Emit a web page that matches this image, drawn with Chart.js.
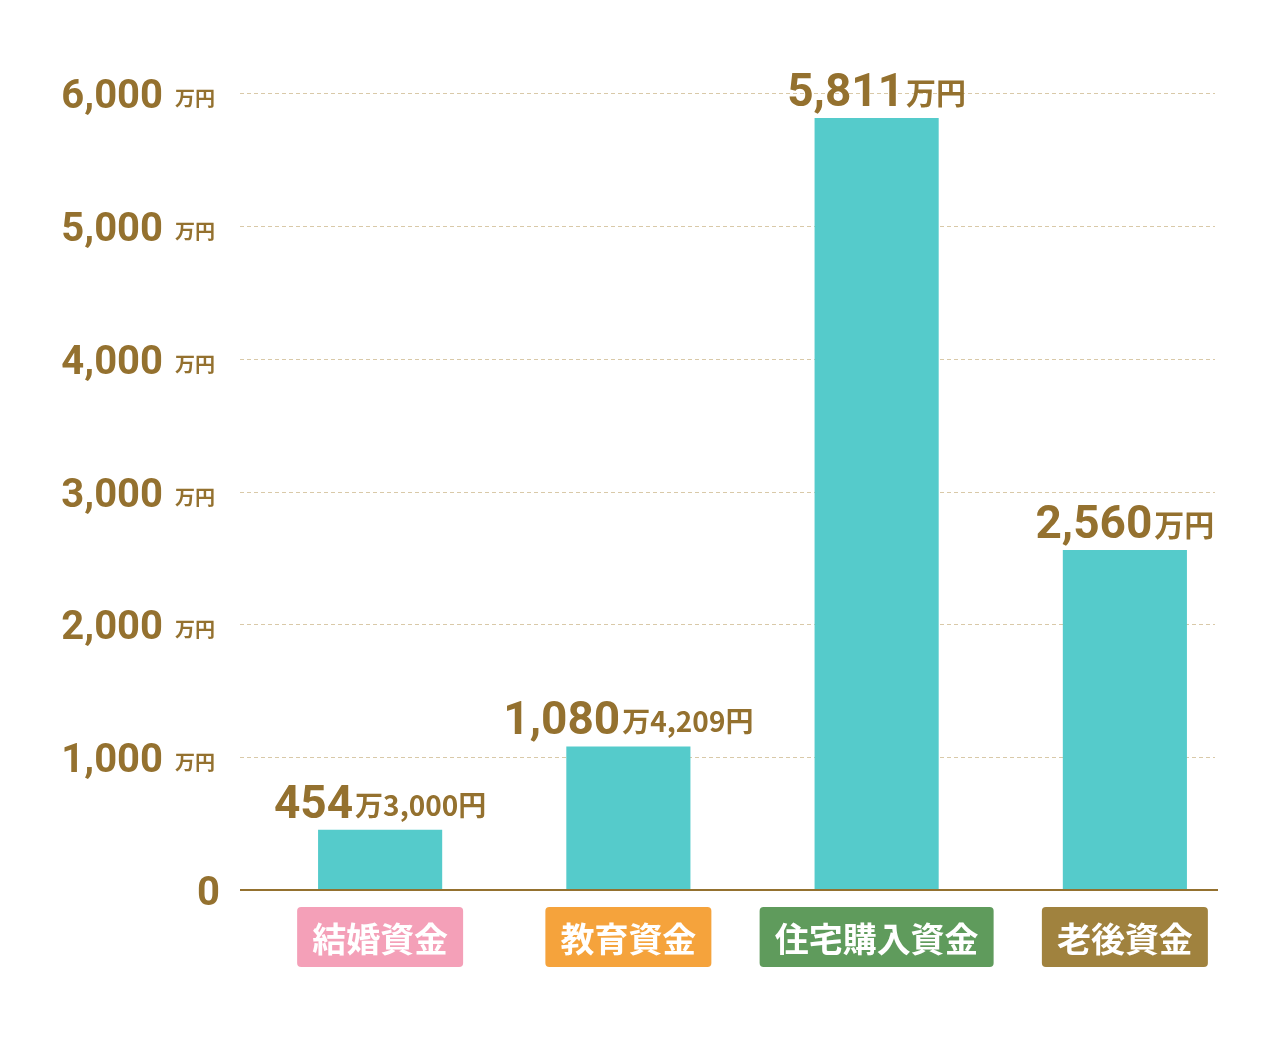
<!DOCTYPE html>
<html>
<head>
<meta charset="utf-8">
<script src="https://cdn.jsdelivr.net/npm/chart.js@4"></script>
<style>
  body { margin: 0; background: #fff; }
  #wrap { width: 1280px; height: 1041px; }
</style>
</head>
<body>
<div id="wrap"><canvas id="chart" width="1280" height="1041"></canvas></div>
<script>
const categories = ['結婚資金', '教育資金', '住宅購入資金', '老後資金'];
const values = [454.3, 1080.4209, 5811, 2560];
const valueMain = ['454', '1,080', '5,811', '2,560'];
const valueSub = ['万3,000円', '万4,209円', '万円', '万円'];
const yTicks = [0, 1000, 2000, 3000, 4000, 5000, 6000];
const yTickLabels = ['0', '1,000', '2,000', '3,000', '4,000', '5,000', '6,000'];
const catColors = ['#f4a0b8', '#f5a33c', '#5f9b5c', '#a0823e'];

const BROWN = '#94712f';
const NUM_FONT = 'Roboto, "Noto Sans", sans-serif';
const JP_FONT = '"Noto Sans CJK JP", sans-serif';

function roundRect(ctx, x, y, w, h, r) {
    ctx.beginPath();
    ctx.moveTo(x + r, y);
    ctx.arcTo(x + w, y, x + w, y + h, r);
    ctx.arcTo(x + w, y + h, x, y + h, r);
    ctx.arcTo(x, y + h, x, y, r);
    ctx.arcTo(x, y, x + w, y, r);
    ctx.closePath();
}

const decor = {
    id: 'decor',
    beforeDatasetsDraw(chart) {
        const ctx = chart.ctx;
        const y = chart.scales.y;
        ctx.save();
        ctx.strokeStyle = '#d9c9a8';
        ctx.lineWidth = 1;
        ctx.setLineDash([4, 3]);
        yTicks.forEach(v => {
            if (v === 0) return;
            const py = Math.round(y.getPixelForValue(v)) + 0.5;
            ctx.beginPath();
            ctx.moveTo(240, py);
            ctx.lineTo(1215, py);
            ctx.stroke();
        });
        ctx.restore();
    },
    afterDraw(chart) {
        const ctx = chart.ctx;
        const y = chart.scales.y;
        const x = chart.scales.x;
        ctx.save();
        // baseline
        ctx.strokeStyle = BROWN;
        ctx.lineWidth = 2;
        const by = y.getPixelForValue(0);
        ctx.beginPath();
        ctx.moveTo(240, by);
        ctx.lineTo(1218, by);
        ctx.stroke();

        // y tick labels
        ctx.fillStyle = BROWN;
        ctx.textBaseline = 'alphabetic';
        yTicks.forEach((v, i) => {
            const py = y.getPixelForValue(v) + 15;
            if (v === 0) {
                ctx.font = 'bold 40px ' + NUM_FONT;
                ctx.textAlign = 'right';
                ctx.fillText('0', 220, py);
                return;
            }
            ctx.font = 'bold 20px ' + JP_FONT;
            ctx.textAlign = 'right';
            ctx.fillText('万円', 215, py - 2);
            ctx.font = 'bold 40px ' + NUM_FONT;
            ctx.fillText(yTickLabels[i], 163, py);
        });

        // value labels
        const meta = chart.getDatasetMeta(0);
        meta.data.forEach((bar, i) => {
            const baseY = bar.y - 12;
            ctx.font = 'bold 46px ' + NUM_FONT;
            const w1 = ctx.measureText(valueMain[i]).width;
            const subSize = valueSub[i] === '万円' ? 30 : 28;
            ctx.font = 'bold ' + subSize + 'px ' + JP_FONT;
            const w2 = ctx.measureText(valueSub[i]).width;
            const start = bar.x - (w1 + w2 + 2) / 2;
            ctx.textAlign = 'left';
            ctx.font = 'bold 46px ' + NUM_FONT;
            ctx.fillText(valueMain[i], start, baseY);
            ctx.font = 'bold ' + subSize + 'px ' + JP_FONT;
            ctx.fillText(valueSub[i], start + w1 + 2, baseY - 2);
        });

        // category labels
        categories.forEach((c, i) => {
            const cx = x.getPixelForValue(i);
            ctx.font = 'bold 34px ' + JP_FONT;
            const w = ctx.measureText(c).width + 30;
            ctx.fillStyle = catColors[i];
            roundRect(ctx, cx - w / 2, 907, w, 60, 4);
            ctx.fill();
            ctx.fillStyle = '#fff';
            ctx.textAlign = 'center';
            ctx.textBaseline = 'middle';
            ctx.fillText(c, cx, 939);
            ctx.textBaseline = 'alphabetic';
        });
        ctx.restore();
    }
};

new Chart(document.getElementById('chart'), {
    type: 'bar',
    data: {
        labels: categories,
        datasets: [{
            data: values,
            backgroundColor: '#55cbcb',
            barPercentage: 0.5,
            categoryPercentage: 1.0
        }]
    },
    options: {
        responsive: false,
        animation: false,
        layout: { padding: { left: 256, right: 31, top: 93, bottom: 151 } },
        plugins: { legend: { display: false }, tooltip: { enabled: false } },
        scales: {
            x: { display: false },
            y: { display: false, min: 0, max: 6000 }
        }
    },
    plugins: [decor]
});
</script>
</body>
</html>
